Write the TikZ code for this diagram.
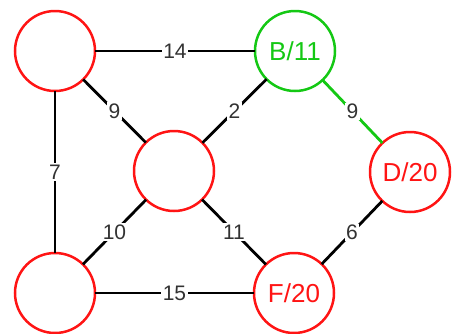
\documentclass[tikz,border=0pt]{standalone}
\usepackage{fontspec}
\setmainfont{Liberation Sans}
\definecolor{nred}{RGB}{255,20,20}
\definecolor{ngreen}{RGB}{20,200,20}
\definecolor{lblgray}{RGB}{50,50,50}
\begin{document}
\begin{tikzpicture}[x=1pt,y=-1pt,
  vtx/.style={circle,draw=nred,line width=2.5pt,minimum size=80pt,inner sep=0pt,outer sep=0pt,text=nred,font=\fontsize{26}{26}\selectfont},
  gvtx/.style={vtx,draw=ngreen,text=ngreen},
  edge/.style={line width=2.8pt,black},
  gedge/.style={line width=2.8pt,ngreen},
  wt/.style={fill=white,inner sep=1.5pt,text=lblgray,font=\fontsize{21}{21}\selectfont}]
\useasboundingbox (0,0) rectangle (452,333);
\node[vtx] (a) at (55,51) {};
\node[gvtx] (b) at (295,51) {B/11};
\node[vtx] (c) at (174,171) {};
\node[vtx] (d) at (410,172) {D/20};
\node[vtx] (e) at (55,293) {};
\node[vtx] (f) at (294,293) {F/20};
\draw[edge] (a) -- node[wt] {14} (b);
\draw[edge] (a) -- node[wt] {9} (c);
\draw[edge] (a) -- node[wt] {7} (e);
\draw[edge] (b) -- node[wt] {2} (c);
\draw[gedge] (b) -- node[wt] {9} (d);
\draw[edge] (c) -- node[wt] {10} (e);
\draw[edge] (c) -- node[wt] {11} (f);
\draw[edge] (d) -- node[wt] {6} (f);
\draw[edge] (e) -- node[wt] {15} (f);
\end{tikzpicture}
\end{document}
